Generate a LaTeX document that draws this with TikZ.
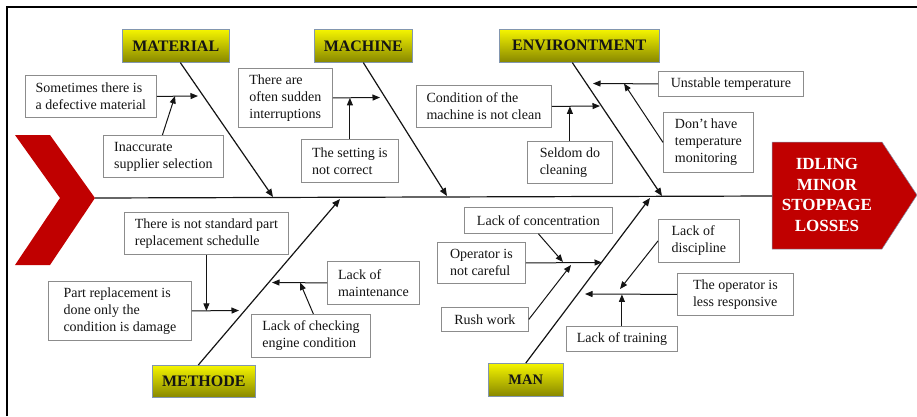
\documentclass[tikz,border=0pt]{standalone}
\usepackage{fontspec}
\setmainfont{Liberation Serif}
\usetikzlibrary{arrows.meta}
\definecolor{hdtop}{RGB}{245,245,0}
\definecolor{hdbot}{RGB}{135,135,0}
\definecolor{headred}{RGB}{192,0,0}
\definecolor{boxline}{RGB}{140,140,140}
\definecolor{hdline}{RGB}{130,150,175}
\definecolor{ink}{RGB}{20,20,20}
\begin{document}
\begin{tikzpicture}[x=1pt,y=-1pt,
  cbox/.style={draw=boxline, fill=white, line width=0.8pt, anchor=north west,
    align=left, font=\fontsize{14}{17}\selectfont, inner sep=0pt, text=ink},
  hdr/.style={draw=hdline, line width=0.6pt, top color=hdtop, bottom color=hdbot,
    font=\fontsize{16}{19}\selectfont\bfseries, text=ink, inner sep=0pt, anchor=north west},
  arr/.style={-{Triangle[length=7.5pt,width=6pt]}, line width=1pt, draw=ink},
  bone/.style={-{Triangle[length=8pt,width=6.5pt]}, line width=1.2pt, draw=ink},
  frame/.style={line width=2pt, draw=black}]
\useasboundingbox (0,0) rectangle (917,416);
% frame
\coordinate (f1) at (7,416);
\coordinate (f2) at (7,7);
\coordinate (f3) at (917,7);
\draw[frame] (f1) -- (f2) -- (f3);
% tail chevron
\fill[headred] (15,135) -- (50,135) -- (95,198) -- (50,265) -- (15,265) -- (60,198) -- cycle;
\coordinate (tail) at (95,198);
% head
\fill[headred, draw=hdline, line width=0.5pt] (772,142) -- (882,142) -- (917,195) -- (882,249) -- (772,249) -- cycle;
\coordinate (headw) at (772,196);
\node[font=\fontsize{17}{20.5}\selectfont\bfseries, text=white, align=center] (head) at (827,195) {IDLING\\MINOR\\STOPPAGE\\LOSSES};
% spine
\draw[line width=1.2pt, draw=ink] (tail) -- (headw);
% headers
\node[hdr, minimum width=107, minimum height=33] (mat) at (122,29) {MATERIAL};
\node[hdr, minimum width=98, minimum height=33] (mac) at (314,29) {MACHINE};
\node[hdr, minimum width=160, minimum height=33] (env) at (499,29) {ENVIRONTMENT};
\node[hdr, minimum width=103, minimum height=32] (met) at (152,365) {METHODE};
\node[hdr, minimum width=75, minimum height=33, font=\fontsize{14.5}{17}\selectfont\bfseries] (man) at (488,363) {MAN};
% bone ends
\coordinate (bmat) at (273,197);
\coordinate (bmac) at (447,196);
\coordinate (benv) at (662,196);
\coordinate (bmet) at (340,199);
\coordinate (bman) at (650,198);
\draw[bone] ([xshift=4.5]mat.south) -- (bmat);
\draw[bone] (mac.south) -- (bmac);
\draw[bone] ([xshift=-7]env.south) -- (benv);
\draw[bone] ([xshift=-5.5]met.north) -- (bmet);
\draw[bone] (man.north) -- (bman);
% cause boxes
\node[cbox, minimum width=131, minimum height=42] (s1) at (25,75) {Sometimes there is\\a defective material};
\node[cbox, minimum width=120, minimum height=42] (s2) at (103,135) {Inaccurate\\supplier selection};
\node[cbox, minimum width=94, minimum height=59] (m1) at (238,68) {There are\\often sudden\\interruptions};
\node[cbox, minimum width=97, minimum height=43] (m2) at (301,139) {The setting is\\not correct};
\node[cbox, minimum width=135, minimum height=42] (e1) at (416,85) {Condition of the\\machine is not clean};
\node[cbox, minimum width=85, minimum height=42] (e2) at (527,141) {Seldom do\\cleaning};
\node[cbox, minimum width=145, minimum height=25] (e3) at (658,71) {Unstable temperature};
\node[cbox, minimum width=90, minimum height=60] (e4) at (663,112) {Don't have\\temperature\\monitoring};
\node[cbox, minimum width=164, minimum height=42] (t1) at (124,212) {There is not standard part\\replacement schedulle};
\node[cbox, minimum width=143, minimum height=59] (t2) at (48,281) {Part replacement is\\done only the\\condition is damage};
\node[cbox, minimum width=92, minimum height=43] (t3) at (327,261) {Lack of\\maintenance};
\node[cbox, minimum width=119, minimum height=43] (t4) at (251,314) {Lack of checking\\engine condition};
\node[cbox, minimum width=148, minimum height=26] (n1) at (464,207) {Lack of concentration};
\node[cbox, minimum width=88, minimum height=41] (n2) at (437,242) {Operator is\\not careful};
\node[cbox, minimum width=87, minimum height=24] (n3) at (441,307) {Rush work};
\node[cbox, minimum width=81, minimum height=43] (n4) at (658,219) {Lack of\\discipline};
\node[cbox, minimum width=116, minimum height=42] (n5) at (677,273) {The operator is\\less responsive};
\node[cbox, minimum width=111, minimum height=25] (n6) at (566,326) {Lack of training};
% sub-cause arrow ends
\coordinate (as1) at (198,96);
\coordinate (as2) at (175,96);
\coordinate (am1) at (380,97.5);
\coordinate (ae1) at (600,106);
\coordinate (ae3) at (593,83.5);
\coordinate (ae4) at (624,83.5);
\coordinate (at2) at (239,310.5);
\coordinate (at3) at (272,282.5);
\coordinate (at4) at (300,282.5);
\coordinate (an1) at (563,262);
\coordinate (an2) at (602,262.5);
\coordinate (an3) at (571,265);
\coordinate (an4) at (620,289);
\coordinate (an5) at (585,294);
% sub-cause arrows
\draw[arr] (s1.east) -- (as1);
\draw[arr] ([xshift=-1]s2.north) -- (as2);
\draw[arr] (m1.east) -- (am1);
\draw[arr] (m2.north) -- (m2.north |- m1.east);
\draw[arr] (e1.east) -- (ae1);
\draw[arr] (e2.north) -- (e2.north |- e1.east);
\draw[arr] (e3.west) -- (ae3);
\draw[arr] (e4.west) -- (ae4);
\draw[arr] (t1.south) -- (t1.south |- t2.east);
\draw[arr] (t2.east) -- (at2);
\draw[arr] (t3.west) -- (at3);
\draw[arr] ([xshift=2.5]t4.north) -- (at4);
\draw[arr] (n1.south) -- (an1);
\draw[arr] (n2.east) -- (an2);
\draw[arr] (n3.east) -- (an3);
\draw[arr] (n4.west) -- (an4);
\draw[arr] (n5.west) -- (an5);
\draw[arr] (n6.north) -- (n6.north |- n5.west);
\end{tikzpicture}
\end{document}
